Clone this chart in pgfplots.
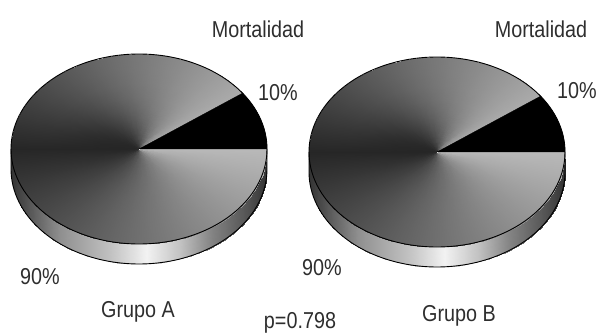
\documentclass[border=0pt]{standalone}
\usepackage{fontspec}
\setmainfont{Liberation Sans}[FakeStretch=0.86]
\usepackage{pgfplots}
\pgfplotsset{compat=1.18}

% Mortality share (%) of each group
\def\mortA{10}
\def\mortB{10}

% Gray level of the disc at angle #1, relative radius #2; result in \gv
\newcommand{\discgray}[3]{%
  \pgfmathparse{#2<180 ? .15+.52*(max(180-#2,.01)/(180-#1))^(1+2.2*(1-#3)^3)
                       : .15+.575*(max(#2-180,.01)/180)^(1+.5*(1-#3)^3)}%
  \global\let\gv\pgfmathresult
}

% Unit-circle geometry of one pie: shaded disc and black slice
\newcommand{\buildpie}[2]{%
  \pgfmathsetmacro\startangle{3.6*#1}%
  \gdef\listtmp{}%
  \pgfmathsetmacro\dt{(360-\startangle)/108}%
  \foreach \k in {0,...,107}{%
    \pgfmathsetmacro\ta{\startangle+\k*\dt}%
    \pgfmathsetmacro\tb{\startangle+(\k+1)*\dt}%
    \pgfmathsetmacro\ca{cos(\ta)}\pgfmathsetmacro\sa{sin(\ta)}%
    \pgfmathsetmacro\cb{cos(\tb)}\pgfmathsetmacro\sbb{sin(\tb)}%
    \foreach \ra/\rb in {0.01/.03,.03/.07,.07/.12,.12/.18,.18/.25,.25/.33,.33/.43,.43/.55,.55/.7,.7/.85,.85/1}{%
      \discgray{\startangle}{\ta}{\ra}\let\ga\gv
      \discgray{\startangle}{\ta}{\rb}\let\gb\gv
      \discgray{\startangle}{\tb}{\rb}\let\gc\gv
      \discgray{\startangle}{\tb}{\ra}\let\gd\gv
      \pgfmathsetmacro\xa{\ra*\ca}\pgfmathsetmacro\ya{\ra*\sa}%
      \pgfmathsetmacro\xb{\rb*\ca}\pgfmathsetmacro\yb{\rb*\sa}%
      \pgfmathsetmacro\xc{\rb*\cb}\pgfmathsetmacro\yc{\rb*\sbb}%
      \pgfmathsetmacro\xd{\ra*\cb}\pgfmathsetmacro\yd{\ra*\sbb}%
      \xdef\listtmp{\listtmp (\xa,\ya)[\ga] (\xb,\yb)[\gb] (\xc,\yc)[\gc] (\xd,\yd)[\gd]}%
    }%
  }%
  \global\expandafter\let\csname disc#2\endcsname\listtmp
  \gdef\listtmp{(0,0)}%
  \pgfmathsetmacro\stepw{\startangle/12}%
  \foreach \k in {0,...,12}{%
    \pgfmathsetmacro\xa{cos(\k*\stepw)}\pgfmathsetmacro\ya{sin(\k*\stepw)}%
    \xdef\listtmp{\listtmp (\xa,\ya)}%
  }%
  \global\expandafter\let\csname slice#2\endcsname\listtmp
}

% Rim band (lower half, seen from above) and outlines, shared by both pies
\def\bandlist{}
\def\ringlist{}
\def\edgelist{}
\def\deptharc{.2105}
\foreach \ta in {180,182,...,358}{%
  \pgfmathsetmacro\tb{\ta+2}%
  \pgfmathsetmacro\ca{cos(\ta)}\pgfmathsetmacro\sa{sin(\ta)}%
  \pgfmathsetmacro\cb{cos(\tb)}\pgfmathsetmacro\sbb{sin(\tb)}%
  \pgfmathsetmacro\ya{\sa-\deptharc}\pgfmathsetmacro\yb{\sbb-\deptharc}%
  \pgfmathsetmacro\ga{(\ca+1)/2}\pgfmathsetmacro\gb{(\cb+1)/2}%
  \xdef\bandlist{\bandlist (\ca,\sa)[\ga] (\ca,\ya)[\ga] (\cb,\yb)[\gb] (\cb,\sbb)[\gb]}%
}
\gdef\edgelist{(-1,0)}
\foreach \ta in {180,182,...,360}{%
  \pgfmathsetmacro\ca{cos(\ta)}\pgfmathsetmacro\sa{sin(\ta)-\deptharc}%
  \xdef\edgelist{\edgelist (\ca,\sa)}%
}
\xdef\edgelist{\edgelist (1,0)}
\foreach \ta in {0,2,...,360}{%
  \pgfmathsetmacro\ca{cos(\ta)}\pgfmathsetmacro\sa{sin(\ta)}%
  \xdef\ringlist{\ringlist (\ca,\sa)}%
}

\buildpie{\mortA}{A}
\buildpie{\mortB}{B}

\pgfplotsset{
  colormap={discgray}{gray(0cm)=(0); gray(1cm)=(1)},
  colormap={bandgray}{gray(0cm)=(.2); gray(19cm)=(.56); gray(39cm)=(.76); gray(53cm)=(.95);
                      gray(66cm)=(.76); gray(78cm)=(.52); gray(92cm)=(.33); gray(100cm)=(.2)},
  pie at/.style 2 args={x filter/.expression={#1+128*x}, y filter/.expression={#2-95*y}},
  shaded patch/.style={patch, patch type=rectangle, shader=interp, point meta=explicit, forget plot},
}

\newcommand{\chartlabel}[2]{\node[text=black!82, inner sep=0pt] at (axis cs:#1) {\fontsize{23}{23}\selectfont #2};}

\begin{document}
\begin{tikzpicture}
\path (0,0) rectangle (598pt,333pt);
\begin{axis}[
  at={(0,0)}, anchor=south west,
  width=598pt, height=333pt, scale only axis,
  xmin=0, xmax=598, ymin=0, ymax=333, y dir=reverse,
  hide axis, clip=false,
  point meta min=0, point meta max=1,
]
% Group A
\edef\tmpplot{\noexpand\addplot[shaded patch, colormap name=bandgray, pie at={139}{149}] coordinates {\bandlist};}\tmpplot
\edef\tmpplot{\noexpand\addplot[shaded patch, colormap name=discgray, pie at={139}{149}] coordinates {\discA};}\tmpplot
\edef\tmpplot{\noexpand\addplot[fill=black, draw=black, line width=.3pt, forget plot, pie at={139}{149}] coordinates {\sliceA} -- cycle;}\tmpplot
\edef\tmpplot{\noexpand\addplot[black, line width=.9pt, no marks, forget plot, pie at={139}{149}] coordinates {\ringlist};}\tmpplot
\edef\tmpplot{\noexpand\addplot[black, line width=.9pt, no marks, forget plot, pie at={139}{149}] coordinates {\edgelist};}\tmpplot
% Group B
\edef\tmpplot{\noexpand\addplot[shaded patch, colormap name=bandgray, pie at={437}{152}] coordinates {\bandlist};}\tmpplot
\edef\tmpplot{\noexpand\addplot[shaded patch, colormap name=discgray, pie at={437}{152}] coordinates {\discB};}\tmpplot
\edef\tmpplot{\noexpand\addplot[fill=black, draw=black, line width=.3pt, forget plot, pie at={437}{152}] coordinates {\sliceB} -- cycle;}\tmpplot
\edef\tmpplot{\noexpand\addplot[black, line width=.9pt, no marks, forget plot, pie at={437}{152}] coordinates {\ringlist};}\tmpplot
\edef\tmpplot{\noexpand\addplot[black, line width=.9pt, no marks, forget plot, pie at={437}{152}] coordinates {\edgelist};}\tmpplot

\chartlabel{258,29}{Mortalidad}
\chartlabel{541,29}{Mortalidad}
\chartlabel{278,93}{10\%}
\chartlabel{577,91}{10\%}
\chartlabel{40,277}{90\%}
\chartlabel{322,268}{90\%}
\chartlabel{138,312}{Grupo A}
\chartlabel{459,316}{Grupo B}
\chartlabel{300,323}{p=0.798}
\end{axis}
\end{tikzpicture}
\end{document}
